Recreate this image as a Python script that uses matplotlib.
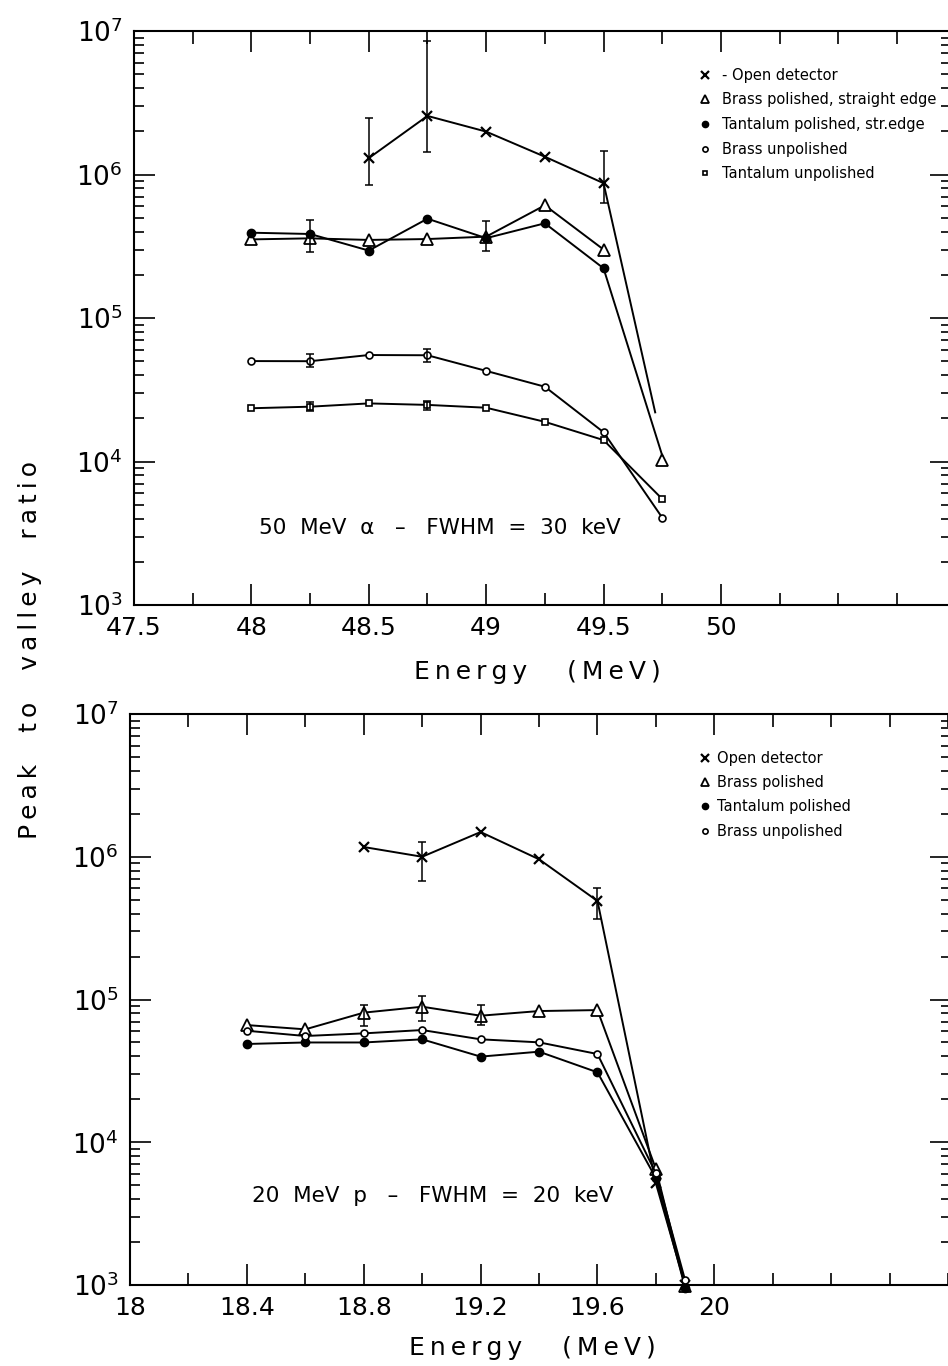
import math
import matplotlib
matplotlib.use("Agg")
import matplotlib.pyplot as plt
from matplotlib.lines import Line2D
from matplotlib.ticker import MultipleLocator, LogLocator, FixedLocator, FuncFormatter, NullFormatter

# ---------------- data: 50 MeV alpha ----------------
a_open_x = [48.5, 48.75, 49.0, 49.25, 49.5, 49.72]
a_open_y = [1.30e6, 2.56e6, 1.99e6, 1.33e6, 8.7e5, 2.2e4]
a_open_err_x = [48.5, 48.75, 49.5]
a_open_err_lo = [8.45e5, 1.44e6, 6.3e5]
a_open_err_hi = [2.48e6, 8.5e6, 1.46e6]

a_bpol_x = [48.0, 48.25, 48.5, 48.75, 49.0, 49.25, 49.5]
a_bpol_y = [3.53e5, 3.59e5, 3.5e5, 3.55e5, 3.69e5, 6.1e5, 3.0e5]
a_bpol_end_x = [49.75]
a_bpol_end_y = [1.03e4]
a_bpol_err_x = [48.25, 49.0]
a_bpol_err_lo = [2.9e5, 2.92e5]
a_bpol_err_hi = [4.8e5, 4.76e5]

a_tpol_x = [48.0, 48.25, 48.5, 48.75, 49.0, 49.25, 49.5, 49.75]
a_tpol_y = [3.93e5, 3.85e5, 2.95e5, 4.92e5, 3.6e5, 4.57e5, 2.22e5, 1.1e4]

a_bunp_x = [48.0, 48.25, 48.5, 48.75, 49.0, 49.25, 49.5, 49.75]
a_bunp_y = [5.01e4, 5.0e4, 5.52e4, 5.5e4, 4.28e4, 3.32e4, 1.6e4, 4.06e3]
a_bunp_err_x = [48.25, 48.75]
a_bunp_err_lo = [4.56e4, 4.9e4]
a_bunp_err_hi = [5.6e4, 6.05e4]

a_tunp_x = [48.0, 48.25, 48.5, 48.75, 49.0, 49.25, 49.5, 49.75]
a_tunp_y = [2.35e4, 2.41e4, 2.54e4, 2.48e4, 2.37e4, 1.89e4, 1.41e4, 5.48e3]
a_tunp_err_x = [48.25, 48.75]
a_tunp_err_lo = [2.25e4, 2.3e4]
a_tunp_err_hi = [2.6e4, 2.65e4]

# ---------------- data: 20 MeV protons ----------------
p_open_x = [18.8, 19.0, 19.2, 19.4, 19.6, 19.8, 19.9]
p_open_y = [1.17e6, 1.0e6, 1.49e6, 9.6e5, 4.9e5, 5.15e3, 1.0e3]
p_open_err_x = [19.0, 19.6]
p_open_err_lo = [6.76e5, 3.65e5]
p_open_err_hi = [1.27e6, 6.0e5]

p_bpol_x = [18.4, 18.6, 18.8, 19.0, 19.2, 19.4, 19.6, 19.8, 19.9]
p_bpol_y = [6.62e4, 6.18e4, 8.09e4, 8.9e4, 7.7e4, 8.3e4, 8.43e4, 6.5e3, 9.8e2]
p_bpol_err_x = [18.8, 19.0, 19.2]
p_bpol_err_lo = [6.5e4, 7.08e4, 6.6e4]
p_bpol_err_hi = [9.1e4, 1.06e5, 9.1e4]

p_tpol_x = [18.4, 18.6, 18.8, 19.0, 19.2, 19.4, 19.6, 19.8, 19.9]
p_tpol_y = [4.88e4, 5.0e4, 5.0e4, 5.26e4, 3.98e4, 4.31e4, 3.09e4, 5.6e3, 9.6e2]

p_bunp_x = [18.4, 18.6, 18.8, 19.0, 19.2, 19.4, 19.6, 19.8, 19.9]
p_bunp_y = [6.04e4, 5.55e4, 5.79e4, 6.11e4, 5.26e4, 5.01e4, 4.15e4, 6.05e3, 1.08e3]

top_xticks = [47.5, 48, 48.5, 49, 49.5, 50]
top_xticklabels = ["47.5", "48", "48.5", "49", "49.5", "50"]
bot_xticks = [18, 18.4, 18.8, 19.2, 19.6, 20]
bot_xticklabels = ["18", "18.4", "18.8", "19.2", "19.6", "20"]

top_legend = ["- Open detector", "Brass polished, straight edge", "Tantalum polished, str.edge",
              "Brass unpolished", "Tantalum unpolished"]
bot_legend = ["Open detector", "Brass polished", "Tantalum polished", "Brass unpolished"]

# ---------------- figure ----------------
W, H = 948, 1366
plt.rcParams['font.family'] = ['DejaVu Sans']
plt.rcParams['mathtext.default'] = 'regular'
fig = plt.figure(figsize=(W / 100, H / 100), dpi=100)

TS = '\u2009'


def spaced(s, gap=TS):
    return [gap.join(w) for w in s.split(' ')]


def ax_rect(x0, y0, x1, y1):
    return [x0 / W, 1 - y1 / H, (x1 - x0) / W, (y1 - y0) / H]


ax1 = fig.add_axes(ax_rect(134, 31, 951, 605))
ax2 = fig.add_axes(ax_rect(130, 714, 951, 1285))

LW = 1.4
kw_line = dict(color='black', lw=LW)
m_open = dict(marker='x', ms=7, mew=1.6, mec='black')
m_tri = dict(marker='^', ms=8, mfc='white', mec='black', mew=1.3)
m_dot = dict(marker='o', ms=6, mfc='black', mec='black')
m_circ = dict(marker='o', ms=5, mfc='white', mec='black', mew=1.2)
m_sq = dict(marker='s', ms=4.5, mfc='white', mec='black', mew=1.2)


def errb(ax, x, lo, hi):
    mid = [(l * h) ** 0.5 for l, h in zip(lo, hi)]
    ax.errorbar(x, mid,
                yerr=[[m - l for m, l in zip(mid, lo)], [h - m for m, h in zip(mid, hi)]],
                fmt='none', ecolor='black', elinewidth=1.1, capsize=3, capthick=1.1)


def leg_handle(style):
    st = dict(style)
    st['ms'] = st['ms'] * 0.75
    return Line2D([], [], ls='none', **st)


def annot(a, b):
    return "  ".join(a.split(' ')) + "   –   " + "  ".join(b.split(' '))


# top panel
ax = ax1
ax.plot(a_open_x, a_open_y, markevery=list(range(5)), **m_open, **kw_line)
ax.plot(a_bpol_x, a_bpol_y, **m_tri, **kw_line)
ax.plot(a_bpol_end_x, a_bpol_end_y, ls='none', **m_tri)
ax.plot(a_tpol_x, a_tpol_y, markevery=list(range(7)), **m_dot, **kw_line)
ax.plot(a_bunp_x, a_bunp_y, **m_circ, **kw_line)
ax.plot(a_tunp_x, a_tunp_y, **m_sq, **kw_line)
errb(ax, a_open_err_x, a_open_err_lo, a_open_err_hi)
errb(ax, a_bpol_err_x, a_bpol_err_lo, a_bpol_err_hi)
errb(ax, a_bunp_err_x, a_bunp_err_lo, a_bunp_err_hi)
errb(ax, a_tunp_err_x, a_tunp_err_lo, a_tunp_err_hi)
ax.set_xlim(47.5, 50.98)
ax.xaxis.set_major_locator(FixedLocator(top_xticks))
ax.set_xticklabels(top_xticklabels)
ax.xaxis.set_minor_locator(MultipleLocator(0.25))
ax.text(0.374, 0.135, annot("50 MeV α", "FWHM = 30 keV"),
        transform=ax.transAxes, ha='center', va='center', fontsize=15.5)
ax.legend([leg_handle(s) for s in (m_open, m_tri, m_dot, m_circ, m_sq)], top_legend,
          loc='upper left', bbox_to_anchor=(0.690, 0.936), frameon=False,
          fontsize=10.5, handlelength=1.0, handletextpad=0.64,
          labelspacing=0.66, borderaxespad=0, borderpad=0)

# bottom panel
ax = ax2
ax.plot(p_open_x, p_open_y, **m_open, **kw_line)
ax.plot(p_bpol_x, p_bpol_y, clip_on=False, **m_tri, **kw_line)
ax.plot(p_tpol_x, p_tpol_y, clip_on=False, **m_dot, **kw_line)
ax.plot(p_bunp_x, p_bunp_y, clip_on=False, **m_circ, **kw_line)
errb(ax, p_open_err_x, p_open_err_lo, p_open_err_hi)
errb(ax, p_bpol_err_x, p_bpol_err_lo, p_bpol_err_hi)
ax.set_xlim(18, 20.81)
ax.xaxis.set_major_locator(FixedLocator(bot_xticks))
ax.set_xticklabels(bot_xticklabels)
ax.xaxis.set_minor_locator(MultipleLocator(0.2))
ax.text(0.369, 0.155, annot("20 MeV p", "FWHM = 20 keV"),
        transform=ax.transAxes, ha='center', va='center', fontsize=15.5)
ax.legend([leg_handle(s) for s in (m_open, m_tri, m_dot, m_circ)], bot_legend,
          loc='upper left', bbox_to_anchor=(0.6915, 0.9357), frameon=False,
          fontsize=10.5, handlelength=1.0, handletextpad=0.3,
          labelspacing=0.64, borderaxespad=0, borderpad=0)


def yfmt(v, pos):
    e = int(round(math.log10(v)))
    return r'$10^{%d}$' % e


for ax in (ax1, ax2):
    ax.set_yscale('log')
    ax.set_ylim(1e3, 1e7)
    ax.yaxis.set_major_locator(LogLocator(base=10, numticks=10))
    ax.yaxis.set_minor_locator(LogLocator(base=10, subs=range(2, 10), numticks=10))
    ax.yaxis.set_major_formatter(FuncFormatter(yfmt))
    ax.yaxis.set_minor_formatter(NullFormatter())
    ax.tick_params(which='both', direction='in', top=True, right=True, width=1.2)
    ax.tick_params(axis='y', which='major', length=15, labelsize=19, pad=8)
    ax.tick_params(axis='y', which='minor', length=7)
    ax.tick_params(axis='x', which='major', length=15, labelsize=18, pad=8)
    ax.tick_params(axis='x', which='minor', length=9)
    for s in ax.spines.values():
        s.set_linewidth(1.5)

xlab = (" " * 5).join(spaced("Energy (MeV)"))
fig.text(537 / W, 1 - 672 / H, xlab, ha='center', va='center', fontsize=18)
fig.text(532 / W, 1 - 1348 / H, xlab, ha='center', va='center', fontsize=18)
ylab = "    ".join(spaced("Peak to valley ratio"))
fig.text(30 / W, 1 - 650 / H, ylab, ha='center', va='center', rotation=90, fontsize=18)

fig.savefig("out.png", dpi=100)
